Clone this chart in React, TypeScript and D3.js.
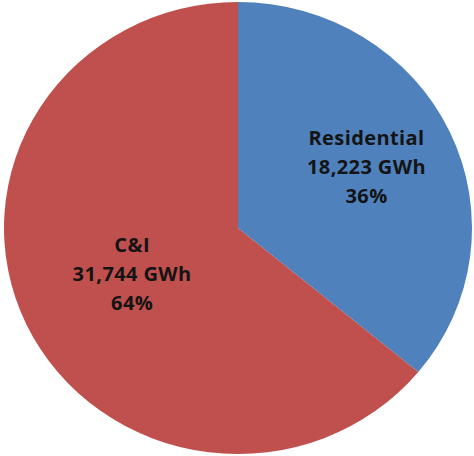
import React from "react";
import * as d3 from "d3";

// Electricity consumption split by customer class
const categories: string[] = ["Residential", "C&I"];
const energyGWh: number[] = [18223, 31744];
const sharePct: number[] = [36, 64];
const colors: string[] = ["#4F81BD", "#C0504D"];

const W = 474;
const H = 456;
const cx = 238;
const cy = 228;
const rx = 234;
const ry = 226;
// radial position of each label, as a fraction of the radius
const labelRadius = [0.607, 0.5];
const lineGap = 29;

type Slice = { name: string; gwh: number; pct: number; color: string };

const slices: Slice[] = categories.map((name, i) => ({
  name,
  gwh: energyGWh[i],
  pct: sharePct[i],
  color: colors[i],
}));

const fmt = d3.format(",");

export default function App() {
  const pie = d3
    .pie<Slice>()
    .sort(null)
    .value((d) => d.pct)
    .startAngle(0)
    .endAngle(2 * Math.PI);
  const arcs = pie(slices);
  const arc = d3.arc<d3.PieArcDatum<Slice>>().innerRadius(0).outerRadius(ry);

  return (
    <svg
      width={W}
      height={H}
      viewBox={`0 0 ${W} ${H}`}
      style={{ position: "fixed", left: 0, top: 0, display: "block", background: "#fff" }}
    >
      <g transform={`translate(${cx},${cy}) scale(${rx / ry},1)`}>
        {arcs.map((a) => (
          <path key={a.data.name} d={arc(a) ?? undefined} fill={a.data.color} />
        ))}
      </g>
      {arcs.map((a, i) => {
        const mid = (a.startAngle + a.endAngle) / 2;
        const x = cx + Math.sin(mid) * labelRadius[i] * rx;
        const y = cy - Math.cos(mid) * labelRadius[i] * ry - 3;
        const lines = [a.data.name, `${fmt(a.data.gwh)} GWh`, `${a.data.pct}%`];
        return (
          <text
            key={a.data.name}
            x={x}
            y={y}
            textAnchor="middle"
            fontFamily="'Open Sans', sans-serif"
            fontWeight="bold"
            fontSize={20}
            letterSpacing={0.4}
            fill="#141414"
          >
            {lines.map((t, j) => (
              <tspan key={j} x={x} y={y + (j - 1) * lineGap} dominantBaseline="central">
                {t}
              </tspan>
            ))}
          </text>
        );
      })}
    </svg>
  );
}
